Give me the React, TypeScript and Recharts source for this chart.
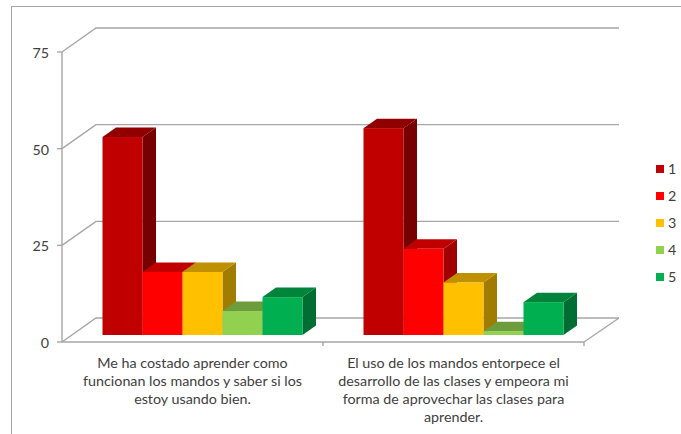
import { Bar, BarChart, CartesianGrid, Legend, XAxis, YAxis } from "recharts";

const categories = [
  "Me ha costado aprender como funcionan los mandos y saber si los estoy usando bien.",
  "El uso de los mandos entorpece el desarrollo de las clases y empeora mi forma de aprovechar las clases para aprender.",
];
const categoryLines = [
  ["Me ha costado aprender como", "funcionan los mandos y saber si los", "estoy usando bien."],
  ["El uso de los mandos entorpece el", "desarrollo de las clases y empeora mi", "forma de aprovechar las clases para", "aprender."],
];
const serie1 = [51.2, 53.5];
const serie2 = [16.3, 22.3];
const serie3 = [16.3, 13.6];
const serie4 = [6.2, 1];
const serie5 = [9.8, 8.5];
const yTicks = [0, 25, 50, 75];

const data = categories.map((name, i) => ({
  name,
  s1: serie1[i],
  s2: serie2[i],
  s3: serie3[i],
  s4: serie4[i],
  s5: serie5[i],
}));

const series = [
  { key: "s1", label: "1", front: "#C00000", top: "#900000", side: "#770000" },
  { key: "s2", label: "2", front: "#FF0000", top: "#C00000", side: "#A00000" },
  { key: "s3", label: "3", front: "#FFC000", top: "#BF9000", side: "#A07C00" },
  { key: "s4", label: "4", front: "#92D050", top: "#6D9C3C", side: "#5C8432" },
  { key: "s5", label: "5", front: "#00B050", top: "#00843C", side: "#006E32" },
];

const FONT = "Lato, sans-serif";
const LINE = "#a6a6a6";
const WALL_DX = 34;
const WALL_DY = -24;
const BAR_DX = 13.5;
const BAR_DY = -9.5;
const SHIFT_X = 10.5;
const SHIFT_Y = -7;

function Bar3D(props: any, top: string, side: string) {
  const { fill, width, height } = props;
  const x = props.x + SHIFT_X;
  const y = props.y + SHIFT_Y;
  const r = x + width;
  const b = y + height;
  return (
    <g>
      <path d={`M${r},${y}L${r + BAR_DX},${y + BAR_DY}V${b + BAR_DY}L${r},${b}Z`} fill={side} />
      <path d={`M${x},${y}L${x + BAR_DX},${y + BAR_DY}H${r + BAR_DX}L${r},${y}Z`} fill={top} />
      <rect x={x} y={y} width={width} height={height} fill={fill} />
    </g>
  );
}

// back wall line plus the diagonal to the front, floor gets its extra edges
function WallLine(props: any) {
  const { x1, x2, y1 } = props;
  const backY = y1 + WALL_DY;
  const isFloor = y1 > 300;
  const mid = (x1 + x2) / 2;
  return (
    <g key={y1} stroke={LINE} strokeWidth={1.4} fill="none">
      <path d={`M${x1},${y1}L${x1 + WALL_DX},${backY}H${x2 + 35}`} />
      {isFloor && <path d={`M${x2},${y1}L${x2 + 35},${backY}`} />}
      {isFloor && <path d={`M${mid},${y1}V${y1 + 4}M${x2},${y1}V${y1 + 4}`} />}
    </g>
  );
}

function CategoryTick({ x, y, index }: any) {
  return (
    <text x={x} y={y} textAnchor="middle" fontFamily={FONT} fontSize={14.3} fill="#404040">
      {categoryLines[index].map((line, i) => (
        <tspan key={i} x={x} y={y + 18 * i + 18}>
          {line}
        </tspan>
      ))}
    </text>
  );
}

function LegendList({ payload }: any) {
  return (
    <div style={{ fontFamily: FONT, fontSize: 14.3, color: "#404040" }}>
      {payload.map((entry: any) => (
        <div key={entry.value} style={{ height: 27, display: "flex", alignItems: "center", gap: 4 }}>
          <span style={{ width: 8, height: 8, background: entry.color }} />
          <span>{entry.value}</span>
        </div>
      ))}
    </div>
  );
}

export default function App() {
  return (
    <div style={{ position: "absolute", left: 0, top: 0, width: 681, height: 434, overflow: "hidden", background: "#fff" }}>
      <div
        style={{
          position: "absolute",
          left: 11,
          top: 6,
          width: 670,
          height: 428,
          borderLeft: `1.5px solid ${LINE}`,
          borderTop: `1.5px solid ${LINE}`,
        }}
      />
      <BarChart
        width={681}
        height={434}
        data={data}
        margin={{ top: 52, right: 97, bottom: 0, left: 0 }}
        barGap={0}
        barCategoryGap={30}
        style={{ position: "absolute", left: 0, top: 0 }}
      >
        <CartesianGrid horizontal={WallLine} vertical={false} syncWithTicks />
        <XAxis
          dataKey="name"
          height={92}
          tickLine={false}
          interval={0}
          tick={<CategoryTick />}
          axisLine={{ stroke: LINE, strokeWidth: 1.4 }}
        />
        <YAxis
          width={62}
          domain={[0, 75]}
          ticks={yTicks}
          tickSize={5}
          tickMargin={8}
          dy={1}
          axisLine={{ stroke: LINE, strokeWidth: 1.4 }}
          tickLine={{ stroke: LINE, strokeWidth: 1.4 }}
          tick={{ fontFamily: FONT, fontSize: 14.3, fill: "#404040" }}
        />
        <Legend
          layout="vertical"
          align="center"
          verticalAlign="middle"
          content={<LegendList />}
          wrapperStyle={{ left: 656, top: 155, width: 25 }}
        />
        {series.map((s) => (
          <Bar
            key={s.key}
            dataKey={s.key}
            name={s.label}
            fill={s.front}
            isAnimationActive={false}
            shape={(p: any) => Bar3D(p, s.top, s.side)}
          />
        ))}
      </BarChart>
    </div>
  );
}
